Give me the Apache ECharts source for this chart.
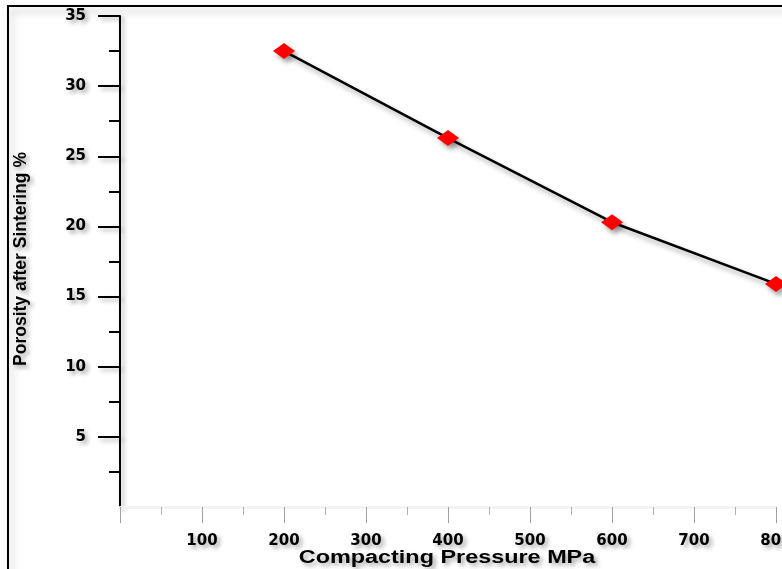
<!DOCTYPE html>
<html>
<head>
<meta charset="utf-8">
<script src="https://cdn.jsdelivr.net/npm/echarts@6/dist/echarts.min.js"></script>
<style>
html,body{margin:0;padding:0;background:#fff;}
#chart{width:782px;height:569px;}
</style>
</head>
<body>
<div id="chart"></div>
<script>
// Data
var pressure = [200, 400, 600, 800];              // Compacting Pressure, MPa
var porosity = [32.5, 26.3, 20.3, 15.9];          // Porosity after Sintering, %
var xTickLabels = ['', '100', '200', '300', '400', '500', '600', '700', '800'];
var yTickValues = [5, 10, 15, 20, 25, 30, 35];
var yTickLabels = ['', '5', '10', '15', '20', '25', '30', '35'];
var xTitle = 'Compacting Pressure MPa';
var yTitle = 'Porosity after Sintering %';

var shadowText = {
  textShadowColor: 'rgba(0,0,0,0.35)',
  textShadowBlur: 4,
  textShadowOffsetX: 3,
  textShadowOffsetY: 3
};

var chart = echarts.init(document.getElementById('chart'), null, {renderer: 'canvas'});
var option = {
  backgroundColor: '#ffffff',
  animation: false,
  grid: {left: 120, right: 6, top: 16, bottom: 62, containLabel: false, outerBoundsMode: 'none'},
  xAxis: {
    type: 'value',
    min: 0, max: 800, interval: 100,
    axisLine: {show: true, lineStyle: {color: '#f2f2f2', width: 3}},
    axisTick: {show: true, length: 16, lineStyle: {color: '#a0a0a0', width: 1}},
    minorTick: {show: true, splitNumber: 2, length: 8, lineStyle: {color: '#b0b0b0', width: 1}},
    splitLine: {show: false},
    axisLabel: Object.assign({
      margin: 27,
      color: '#000',
      fontFamily: 'DejaVu Sans',
      fontWeight: 'bold',
      fontSize: 15,
      formatter: function (v) { return xTickLabels[Math.round(v / 100)]; }
    }, shadowText)
  },
  yAxis: {
    type: 'value',
    min: 0, max: 35, interval: 5,
    axisLine: {show: true, lineStyle: {color: '#000', width: 2,
      shadowColor: 'rgba(0,0,0,0.3)', shadowBlur: 4, shadowOffsetX: 3, shadowOffsetY: 3}},
    axisTick: {show: true, length: 22, customValues: yTickValues, lineStyle: {color: '#000', width: 2,
      shadowColor: 'rgba(0,0,0,0.3)', shadowBlur: 4, shadowOffsetX: 3, shadowOffsetY: 3}},
    minorTick: {show: true, splitNumber: 2, length: 11, lineStyle: {color: '#000', width: 2}},
    splitLine: {show: false},
    axisLabel: Object.assign({
      margin: 34,
      color: '#000',
      fontFamily: 'DejaVu Sans',
      fontWeight: 'bold',
      fontSize: 15,
      formatter: function (v) { return yTickLabels[Math.round(v / 5)]; }
    }, shadowText)
  },
  graphic: [
    {
      type: 'rect', silent: true, z: -1,
      shape: {x: 8, y: 6, width: 820, height: 620},
      style: {fill: null, stroke: '#000', lineWidth: 2,
        shadowColor: 'rgba(0,0,0,0.3)', shadowBlur: 8, shadowOffsetX: 3, shadowOffsetY: 5}
    },
    {
      type: 'text', silent: true,
      x: 447, y: 558, scaleX: 1.3,
      style: Object.assign({
        text: xTitle,
        fill: '#000',
        font: 'bold 18px "Liberation Sans", Arial, sans-serif',
        textAlign: 'center',
        textVerticalAlign: 'middle'
      }, shadowText)
    },
    {
      type: 'text', silent: true,
      x: 21, y: 259, rotation: Math.PI / 2,
      style: Object.assign({
        text: yTitle,
        fill: '#000',
        font: 'bold 17.5px "Liberation Sans", Arial, sans-serif',
        textAlign: 'center',
        textVerticalAlign: 'middle'
      }, shadowText)
    }
  ],
  series: [{
    type: 'line',
    data: pressure.map(function (p, i) { return [p, porosity[i]]; }),
    symbol: 'diamond',
    symbolSize: [22, 16],
    clip: false,
    lineStyle: {color: '#000', width: 2.5,
      shadowColor: 'rgba(0,0,0,0.35)', shadowBlur: 5, shadowOffsetX: 3, shadowOffsetY: 4},
    itemStyle: {color: '#ff0000', borderWidth: 0,
      shadowColor: 'rgba(0,0,0,0.35)', shadowBlur: 5, shadowOffsetX: 3, shadowOffsetY: 4}
  }]
};
chart.setOption(option);
</script>
</body>
</html>
